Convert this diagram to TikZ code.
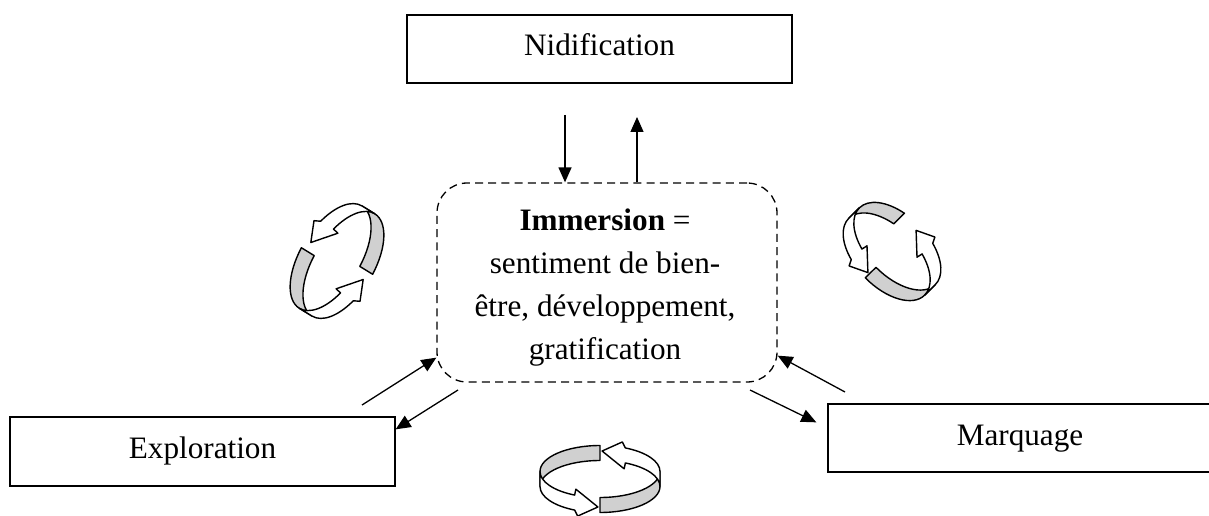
\documentclass[tikz,border=0pt]{standalone}
\usepackage{fontspec}
\setmainfont{Liberation Serif}
\usetikzlibrary{arrows.meta,calc}
\definecolor{ribgray}{RGB}{208,208,208}
% #1 rx, #2 ry, #3 band height, #4 start angle of the grey part (all in px units)
\newcommand{\ribbonarrow}[4]{%
  \pgfmathsetmacro{\hh}{#3/2}%
  \filldraw[ribbon,fill=ribgray] ({#1*cos(#4)},{\hh+#2*sin(#4)})
    arc[start angle=#4,end angle=180,x radius=#1*0.5pt,y radius=#2*0.5pt]
    -- (-#1,-\hh) arc[start angle=180,end angle=#4,x radius=#1*0.5pt,y radius=#2*0.5pt] -- cycle;
  \filldraw[ribbon,fill=white] (-#1,\hh)
    arc[start angle=180,end angle=245,x radius=#1*0.5pt,y radius=#2*0.5pt]
    -- ++(1.2,5.9) -- ({#1*cos(268)},{#2*sin(268)-2})
    -- ({#1*cos(245)+3},{-\hh+#2*sin(245)-6})
    -- ({#1*cos(245)},{-\hh+#2*sin(245)})
    arc[start angle=245,end angle=180,x radius=#1*0.5pt,y radius=#2*0.5pt] -- cycle;
}
% #1 x, #2 y, #3 rotation, #4 rx, #5 ry, #6 h, #7 start 1, #8 start 2
\newcommand{\cycleicon}[8]{%
  \begin{scope}[shift={(#1,#2)},rotate=#3]
    \ribbonarrow{#4}{#5}{#6}{#7}
    \begin{scope}[rotate=180]\ribbonarrow{#4}{#5}{#6}{#8}\end{scope}
  \end{scope}}
\begin{document}
\begin{tikzpicture}[x=0.5pt,y=0.5pt,
  every node/.style={font=\fontsize{15.6pt}{21.4pt}\selectfont},
  plainbox/.style={draw,line width=0.65pt,text height=11pt,text depth=4pt,inner sep=0pt},
  immbox/.style={draw,line width=0.65pt,dash pattern=on 4pt off 2.6pt,rounded corners=15pt,inner sep=0pt},
  arr/.style={line width=0.65pt,-{Triangle[length=7.5pt,width=6.5pt]}},
  ribbon/.style={draw=black,line width=0.7pt,line join=round}]
\useasboundingbox (0,0) rectangle (1209,515);
\clip (0,0) rectangle (1209,515);
\node[plainbox,minimum width=192.5pt,minimum height=34pt] (nid) at (599.5,466) {Nidification};
\node[plainbox,minimum width=192.5pt,minimum height=34.5pt] (expl) at (202.5,63.5) {Exploration};
\node[plainbox,minimum width=192pt,minimum height=34pt] (marq) at (1020,77) {Marquage};
\node[immbox,minimum width=170pt,minimum height=99.5pt] (imm) at (607,232.5) {};
\node[align=center,inner sep=0pt] (immtext) at ($(imm.center)+(-2,-5)$)
  {\textbf{Immersion} =\\ sentiment de bien-\\ être, développement,\\ gratification};
\coordinate (d1) at (565,400);
\coordinate (u1) at (637,398);
\coordinate (e1) at (362,110);
\coordinate (e2) at (458,125);
\coordinate (m1) at (750,125);
\coordinate (m2) at (845,123);
\draw[arr] (d1) -- (d1 |- imm.north);
\draw[arr] (u1 |- imm.north) -- (u1);
\draw[arr] (e1) -- ($(imm.south west)+(0,25)$);
\draw[arr] (e2) -- ($(expl.north east)+(0,-13)$);
\draw[arr] (m1) -- ($(marq.north west)+(-11,-19)$);
\draw[arr] (m2) -- ($(imm.south east)+(0,27)$);
\cycleicon{337}{254}{-121.5}{60}{30}{15}{97}{97}
\cycleicon{892}{263.5}{-45.4}{54}{30}{15}{110}{90}
\cycleicon{600}{36}{0}{60}{26}{15}{90}{90}
\end{tikzpicture}
\end{document}
